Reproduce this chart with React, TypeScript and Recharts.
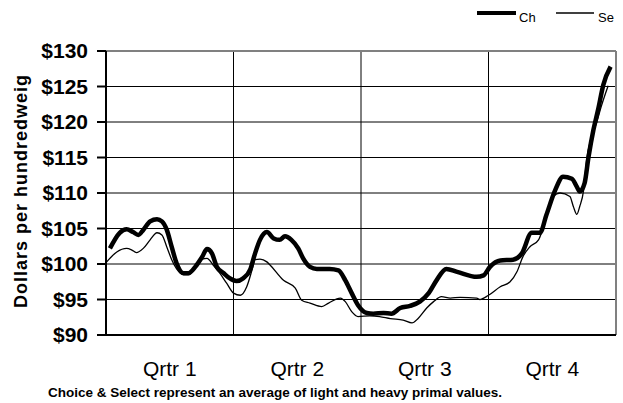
import React from 'react';
import { LineChart, Line, XAxis, YAxis, CartesianGrid, ReferenceLine } from 'recharts';

// week of year (0-52) and price
const choiceWeeks = [0.4, 1.4, 2.1, 2.75, 3.3, 3.8, 4.5, 5.2, 5.7, 6.2, 6.7, 7.2, 7.9, 8.4, 9.1, 9.8, 10.3, 10.8, 11.3, 12.0, 12.6, 13.3, 14.0, 14.7, 15.2, 15.7, 16.4, 17.1, 17.7, 18.25, 18.9, 19.6, 20.1, 20.8, 21.5, 22.8, 23.7, 24.4, 25.05, 25.7, 26.6, 27.25, 28.3, 29.1, 30.0, 31.0, 32.0, 32.9, 33.7, 34.7, 35.8, 37.8, 38.5, 39.15, 40.2, 41.5, 42.4, 43.4, 44.25, 44.9, 45.8, 46.6, 47.5, 48.0, 48.3, 48.8, 49.2, 49.7, 50.2, 50.7, 51.45];
const choicePrices = [102.2, 104.4, 104.9, 104.5, 104.1, 104.8, 106.0, 106.3, 106.0, 104.8, 102.4, 100.1, 98.7, 98.7, 99.6, 101.0, 102.1, 101.5, 99.6, 98.7, 98.0, 97.6, 98.0, 99.2, 101.5, 103.4, 104.5, 103.6, 103.4, 103.9, 103.4, 102.2, 100.8, 99.6, 99.3, 99.3, 99.1, 97.7, 95.9, 94.2, 93.1, 93.0, 93.1, 93.0, 93.8, 94.1, 94.7, 95.9, 97.7, 99.3, 98.9, 98.2, 98.4, 99.6, 100.5, 100.6, 101.5, 104.4, 104.4, 106.9, 110.4, 112.3, 112.0, 110.9, 110.2, 111.4, 115.1, 118.9, 121.9, 125.2, 127.8];

const selectWeeks = [0.07, 1.1, 2.1, 2.6, 3.1, 3.8, 4.5, 5.2, 5.7, 6.2, 6.7, 7.2, 7.9, 8.4, 9.1, 9.8, 10.3, 10.9, 11.6, 12.3, 13.0, 13.7, 14.35, 14.9, 15.2, 15.7, 16.4, 16.7, 18.1, 19.3, 19.95, 20.8, 22.0, 22.7, 23.9, 24.4, 25.05, 25.7, 26.9, 27.9, 29.0, 30.3, 31.2, 31.8, 32.7, 33.4, 34.2, 35.1, 36.1, 37.8, 38.1, 39.0, 40.2, 41.2, 41.9, 42.5, 43.2, 44.1, 44.4, 44.9, 45.6, 46.3, 47.3, 47.65, 48.0, 48.3, 48.7, 49.0, 49.5, 50.0, 50.5, 51.2];
const selectPrices = [100.3, 101.7, 102.2, 102.0, 101.6, 102.2, 103.4, 104.4, 104.1, 102.4, 100.6, 99.3, 98.5, 98.5, 99.4, 100.7, 100.8, 99.9, 98.7, 97.3, 95.9, 95.6, 96.8, 99.2, 100.6, 100.7, 100.3, 99.9, 97.7, 96.6, 94.9, 94.5, 94.0, 94.5, 95.2, 94.7, 93.3, 92.6, 92.7, 92.6, 92.3, 92.1, 91.7, 92.3, 93.8, 94.7, 95.4, 95.2, 95.3, 95.2, 95.0, 95.6, 96.8, 97.5, 98.9, 101.0, 102.4, 103.4, 104.4, 106.7, 109.5, 110.0, 109.5, 108.1, 107.0, 108.1, 110.4, 114.6, 117.9, 119.8, 122.2, 125.1];

const quarterLabels = ['Qrtr 1', 'Qrtr 2', 'Qrtr 3', 'Qrtr 4'];
const quarterCentres = [6.5, 19.5, 32.5, 45.5];
const quarterBounds = [13, 26, 39];
const priceTicks = [90, 95, 100, 105, 110, 115, 120, 125, 130];

const choiceData = choiceWeeks.map((w, i) => ({ w, v: choicePrices[i] }));
const selectData = selectWeeks.map((w, i) => ({ w, v: selectPrices[i] }));

const FONT = 'Liberation Sans, Arial, sans-serif';

export default function App() {
  return (
    <div style={{ position: 'absolute', left: 0, top: 0, width: 623, height: 403, background: '#fff' }}>
      <LineChart width={623} height={403} margin={{ top: 51, right: 7, bottom: 0, left: 0 }}>
        <CartesianGrid vertical={false} stroke="#000" strokeWidth={1} />
        <XAxis
          type="number"
          dataKey="w"
          domain={[0, 52]}
          ticks={quarterCentres}
          tickFormatter={(v) => quarterLabels[quarterCentres.indexOf(v)]}
          height={68}
          axisLine={{ stroke: '#000', strokeWidth: 2 }}
          tickLine={false}
          tickSize={0}
          tickMargin={26}
          tick={{ fontSize: 21, fill: '#000', fontFamily: FONT }}
          allowDataOverflow
        />
        <YAxis
          type="number"
          domain={[90, 130]}
          ticks={priceTicks}
          tickFormatter={(v) => `$${v}`}
          width={106}
          axisLine={{ stroke: '#000', strokeWidth: 2 }}
          tickLine={{ stroke: '#000', strokeWidth: 2 }}
          tickSize={9}
          tickMargin={9}
          tick={{ fontSize: 21, fontWeight: 'bold', fill: '#000', fontFamily: FONT }}
          allowDataOverflow
        />
        {quarterBounds.map((q) => (
          <ReferenceLine key={q} x={q} stroke="#000" strokeWidth={1} />
        ))}
        <ReferenceLine y={130} stroke="#808080" strokeWidth={2} />
        <ReferenceLine x={52} stroke="#808080" strokeWidth={2} />
        <Line data={selectData} dataKey="v" type="monotone" stroke="#000" strokeWidth={1.3} dot={false} isAnimationActive={false} />
        <Line data={choiceData} dataKey="v" type="monotone" stroke="#000" strokeWidth={4.5} dot={false} isAnimationActive={false} />

        <defs>
          <clipPath id="ylabclip">
            <rect x={0} y={76} width={40} height={300} />
          </clipPath>
        </defs>
        <g clipPath="url(#ylabclip)">
          <text
            transform="rotate(-90)"
            x={-308}
            y={27}
            fontSize={18}
            fontWeight="bold"
            letterSpacing={1}
            fontFamily={FONT}
            fill="#000"
          >
            Dollars per hundredweight
          </text>
        </g>

        <g>
          <line x1={477} y1={13} x2={516} y2={13} stroke="#000" strokeWidth={4} />
          <text x={519} y={22} fontSize={13} fontFamily={FONT} fill="#000">Ch</text>
          <line x1={556} y1={13} x2={594} y2={13} stroke="#000" strokeWidth={1.3} />
          <text x={598} y={22} fontSize={13} fontFamily={FONT} fill="#000">Se</text>
        </g>

        <text x={275} y={397} textAnchor="middle" fontSize={13.5} fontWeight="bold" fontFamily={FONT} fill="#000">
          Choice &amp; Select represent an average of light and heavy primal values.
        </text>
      </LineChart>
    </div>
  );
}
